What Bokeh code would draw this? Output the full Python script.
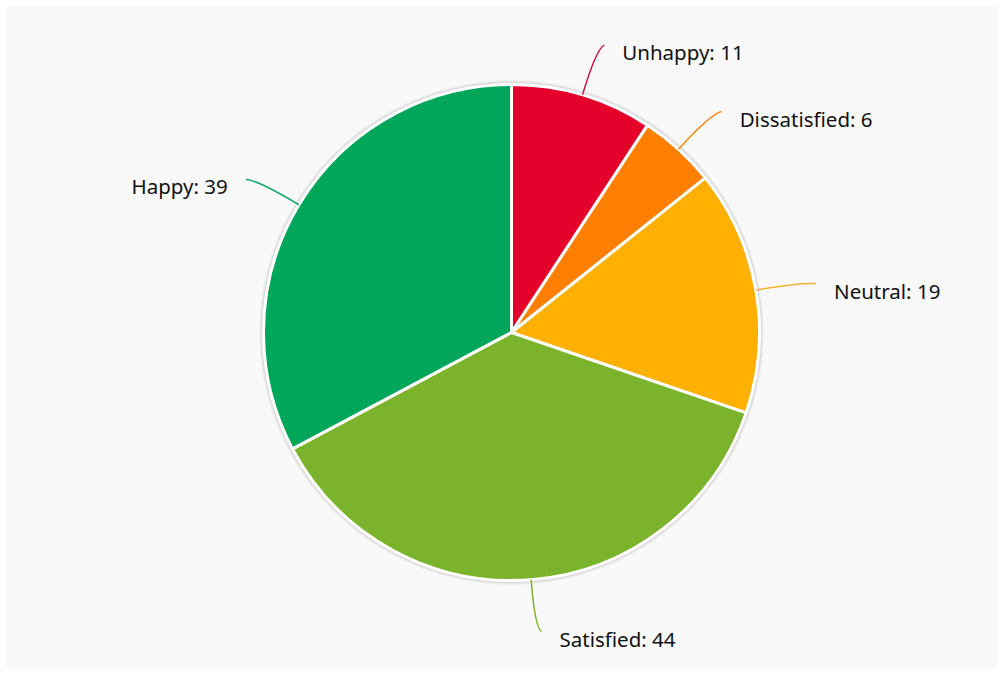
import numpy as np
from bokeh.plotting import figure
from bokeh.models import Range1d, ColumnDataSource
from bokeh.core.properties import value
from bokeh.embed import file_html
from bokeh.resources import INLINE

categories = ["Unhappy", "Dissatisfied", "Neutral", "Satisfied", "Happy"]
counts = [11, 6, 19, 44, 39]
colors = ["#e4002b", "#ff8000", "#ffb000", "#7cb32c", "#00a65a"]
line_colors = ["#c8103f", "#f08a1c", "#f5b335", "#7cb32c", "#19a86a"]

W, H = 998, 669
FW, FH = 992, 663
cx, cy = 505, 337
R = 248

p = figure(width=W, height=H, output_backend="svg", toolbar_location=None,
           x_range=Range1d(0, FW), y_range=Range1d(0, FH),
           min_border_left=6, min_border_top=6, min_border_right=0, min_border_bottom=0)
p.axis.visible = False
p.grid.visible = False
p.outline_line_color = None
p.background_fill_color = "#f9f9f9"
p.border_fill_color = "#ffffff"

vals = np.array(counts, dtype=float)
frac = vals / vals.sum() * 2 * np.pi
cum = np.concatenate([[0], np.cumsum(frac)])
start = np.pi / 2 - cum[:-1]
end = np.pi / 2 - cum[1:]
mid = (cum[:-1] + cum[1:]) / 2  # clockwise from top

# shadow ring
p.circle(x=[cx], y=[cy], radius=R + 4.5, fill_color="#000000", fill_alpha=0.04, line_color=None)
p.circle(x=[cx], y=[cy], radius=R + 3, fill_color="#000000", fill_alpha=0.08, line_color=None)

src = ColumnDataSource(dict(start=start, end=end, color=colors, cat=categories))
p.wedge(x=cx, y=cy, radius=R, start_angle="start", end_angle="end", direction="clock",
        fill_color="color", line_color="white", line_width=3, source=src)

dx = np.sin(mid)
dy = np.cos(mid)
side = np.where(dx >= 0, 1, -1)
x0 = cx + R * dx
y0 = cy + R * dy
xc = cx + (R + 48) * dx
yc = cy + (R + 48) * dy
x1 = cx + (R + 55) * dx + side * 6
y1 = cy + (R + 55) * dy - 3 * np.sign(dy)
p.quadratic(x0=x0, y0=y0, x1=x1, y1=y1, cx=xc, cy=yc, line_color=line_colors, line_width=1.5)

labels = [f"{c}: {v}" for c, v in zip(categories, counts)]
tx = x1 + side * 18
ty = y1 - 7
align = ["left" if s > 0 else "right" for s in side]
tsrc = ColumnDataSource(dict(x=tx, y=ty, text=labels, align=align))
p.text(x="x", y="y", text="text", text_align="align", text_baseline="middle",
       text_font=value("Noto Sans"), text_font_size="20.5px", text_color="#111111", source=tsrc)

open("out.html", "w").write(file_html(p, INLINE))
